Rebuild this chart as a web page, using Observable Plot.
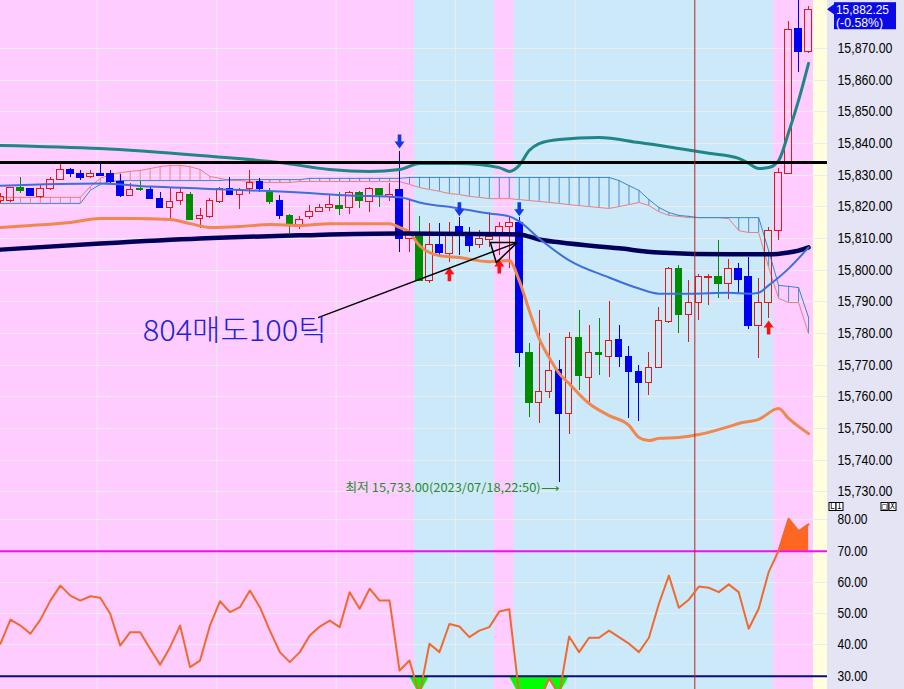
<!DOCTYPE html>
<html><head><meta charset="utf-8">
<script src="https://cdn.jsdelivr.net/npm/d3@7"></script>
<script src="https://cdn.jsdelivr.net/npm/@observablehq/plot@0.6"></script>
<style>
body{margin:0;background:#fff;}
#wrap{position:relative;width:904px;height:689px;overflow:hidden;background:#e4e4f4;}
#price{position:absolute;left:0;top:0;}
#rsi{position:absolute;left:0;top:501px;}
svg{display:block;overflow:visible;}
</style></head>
<body><div id="wrap"><div id="price"></div><div id="rsi"></div></div>
<script>
// ---------- data ----------
const candleKind = ["r","r","g","b","r","r","r","b","b","r","b","b","b","r","g","b","b","r","r","g","r","r","r","b","r","r","b","g","b","g","r","r","r","r","g","r","g","r","g","r","b","r","g","r","b","r","b","b","r","r","r","r","b","g","r","r","b","r","g","r","g","r","b","b","b","r","r","r","g","r","r","r","g","r","b","b","r","r","r","r","b","r"];
const open  = [15822,15821.75,15826,15825.5,15823,15825.5,15828.5,15831.5,15830.25,15829.5,15830.5,15830.5,15828,15823.5,15825.75,15825.25,15822.5,15819.75,15822,15823.75,15816.25,15816.75,15821.5,15825.75,15823.75,15825.5,15828,15824.5,15821.75,15817,15813.75,15816.75,15818.5,15819.5,15820.25,15819.5,15824.25,15821.5,15825.75,15823.25,15825.25,15809.75,15811.75,15796.75,15808,15805.25,15813.5,15810.75,15808,15809.5,15811,15813.5,15814.75,15774,15758,15761.5,15768.5,15754.75,15778.5,15766,15773.75,15772.5,15778,15772.75,15768,15764.25,15769.25,15783.5,15800.5,15786,15789.75,15797.5,15798,15795.5,15800.25,15797.75,15782.25,15789.75,15812.5,15830.5,15876.25,15868.75];
const high  = [15824.25,15826.25,15829.25,15825.75,15827,15829.25,15833.5,15832,15831.5,15831.5,15833.5,15831.5,15830.25,15827.25,15828,15826.5,15824.5,15825.75,15825.75,15824.5,15819.5,15822.5,15826.25,15829.25,15825.75,15831.5,15829,15825.75,15823.5,15817.5,15817,15820.5,15820.75,15823.75,15824.5,15824.75,15824.75,15826,15825.75,15827.5,15837.5,15822,15817,15814.75,15814.75,15815,15816.5,15813.5,15812.5,15818.25,15815,15816.5,15816.5,15777,15787.25,15780,15771.5,15780.25,15787.25,15782.5,15784.75,15790.25,15782.5,15776,15770,15774,15788.25,15800.75,15801.5,15796.75,15798.5,15798.5,15809.5,15803.5,15802,15804,15797.5,15813.5,15832,15878.5,15887,15883.25];
const low   = [15821,15821.5,15824.25,15823.25,15822.75,15825.25,15828.25,15829.25,15828.25,15829,15829.5,15827.5,15823,15823.25,15825,15822.25,15819.5,15815.75,15820.5,15815.75,15813.25,15816.25,15821,15823.75,15819.25,15823.75,15824.5,15820.75,15816,15811.5,15812.75,15816,15818.25,15818.5,15817.25,15817.5,15819.5,15818.25,15819.75,15821.75,15805.5,15805.5,15796.5,15795.75,15804,15802.5,15804.5,15805.5,15807,15807.25,15804.5,15800.5,15769.25,15753.5,15751.5,15759.5,15733,15748,15762,15758.25,15766.75,15766,15769.25,15753.25,15752.25,15760.5,15769,15783.25,15780,15777.25,15784,15788.75,15791,15790.75,15792.5,15781.25,15772,15784.75,15809.5,15830.25,15862.5,15868.5];
const close = [15823.25,15826,15825,15823.5,15825.5,15828.5,15831.5,15830.25,15829.25,15830.25,15829.75,15827.75,15823.5,15825.25,15825.25,15822.5,15819.75,15821.5,15824.25,15816,15817.25,15822,15825.75,15823.75,15825,15827.5,15825.5,15821.5,15817,15814.5,15816,15818.5,15819.75,15820.5,15819.25,15824.5,15821.75,15825.5,15823.75,15823.75,15810,15811.5,15796.75,15808,15805.5,15811,15811.75,15807.75,15809.75,15810.5,15813.5,15814.75,15774,15758,15761.5,15768.25,15754.75,15778.75,15766.5,15774,15773.25,15777.5,15772.5,15767.75,15764.25,15769.25,15784,15800.5,15786,15789.5,15798,15798,15795.5,15800.25,15797,15782.25,15789.75,15812.5,15830.75,15876,15869,15882.25];

// Ichimoku spans (per bar)
const spanA = [15823,15823,15823,15823,15823,15823,15823,15823,15823,15826.4,15829.0,15830.2,15830.8,15831.2,15831.5,15832.1,15832.7,15833.1,15833.1,15832.7,15831.8,15829.6,15829.0,15828.3,15828.3,15828.0,15827.7,15827.7,15827.7,15827.7,15828.0,15828,15828,15828,15828,15828,15828,15828,15828,15828,15828,15827.1,15826.1,15825.5,15824.9,15824.2,15823.9,15823.3,15823.0,15822.6,15822.6,15822.6,15822.3,15822.0,15821.7,15821.4,15821.1,15820.7,15820.4,15820.1,15819.8,15819.5,15820.1,15820.7,15821.4,15820.4,15818.5,15817.3,15817.0,15816.6,15816.6,15816.6,15816.6,15816.3,15812.5,15811.9,15811.9,15800.9,15791.1,15789.8,15789.8,15780.0];
const spanB = [15821.1,15821.1,15821.1,15821.1,15821.1,15821.1,15821.1,15821.1,15821.1,15825.2,15827.1,15828.0,15828.3,15828.3,15828.3,15828.3,15828.3,15828.3,15828.3,15828.3,15828.3,15828.3,15828.3,15828.6,15828.6,15828.6,15828.6,15828.6,15828.6,15828.6,15828.6,15829,15829,15829,15829,15829,15829,15829,15829,15829,15829,15829.3,15829.3,15829.3,15829.3,15829.3,15829.3,15829.3,15829.3,15829.3,15829.3,15829.3,15829.3,15829.3,15829.3,15829.3,15829.3,15829.3,15829.3,15829.3,15829.3,15829.3,15828.3,15826.7,15825.2,15822.3,15819.8,15818.2,15817.3,15817.0,15816.6,15816.6,15816.6,15816.6,15816.6,15816.6,15816.6,15806.2,15795.2,15794.9,15794.5,15785.1];

// Bollinger upper (teal)
const bbUpperIdx = [0,10,20,28,33,37,40,42,46,50,51,52,53,54,56,60,64,68,71,74,75,76,77,78,79,80,81];
const bbUpper    = [15839.4,15838.4,15836.2,15834.0,15831.8,15831.2,15831.8,15833.7,15833.7,15832.4,15831.2,15833.1,15837.8,15840.0,15841.3,15841.9,15840.3,15838.4,15836.9,15835.3,15833.7,15832.1,15832.4,15834.6,15843.5,15853.6,15865.3];
// Bollinger lower (orange)
const bbLowerIdx = [0,3,7,10,13,17,19,21,24,27,30,33,39,40,41,42,44,46,49,51,52,53,54,55,56,57,59,61,63,64,65,66,68,70,73,74,76,78,79,81];
const bbLower    = [15813.5,15814.1,15815.1,15816.3,15816.3,15816.0,15814.7,15813.5,15813.8,15814.4,15814.1,15814.7,15814.7,15813.5,15811.9,15807.8,15804.6,15804.0,15802.7,15803.1,15796.7,15787.3,15778.4,15772.4,15767.4,15764.2,15757.9,15754.1,15751.0,15747.2,15746.2,15746.9,15747.2,15748.1,15750.6,15751.6,15752.9,15756.3,15753.2,15748.4];
// long moving average (navy)
const maLongIdx = [0,10,20,30,40,52,54,56,62,66,73,77,79,80,81];
const maLong    = [15806.5,15808.4,15810.0,15811.0,15811.6,15811.3,15809.7,15808.8,15806.9,15805.6,15805.0,15805.0,15805.6,15806.2,15807.2];
// mid moving average (blue)
const maMidIdx = [0,10,15,20,30,35,40,42,46,49,51,52,54,57,61,64,66,69,73,75,76,77,79,81];
const maMid    = [15826.7,15827.4,15826.4,15825.8,15824.5,15823.6,15823.0,15821.4,15819.5,15817.9,15817.0,15815.4,15810.0,15803.1,15797.7,15794.2,15792.6,15792.6,15792.9,15792.6,15792.9,15795.2,15800.5,15807.2];

const resistance = 15834.0;
const rsi = [40.4,48.1,46.2,43.6,48.1,54.2,59.0,55.8,54.2,55.6,
 55.1,50.0,39.8,44.1,44.1,38.8,33.7,39.3,46.2,32.9,
 35.0,46.2,54.0,50.5,52.1,57.4,52.1,44.6,37.7,34.5,
 37.7,43.0,45.9,47.8,45.7,56.9,51.6,58.0,54.2,54.2,
 31.8,35.0,24.0,40.4,37.7,46.7,45.9,42.5,44.6,45.7,
 50.7,51.4,24.0,18.0,22.0,29.3,24.0,42.7,37.7,42.3,
 42.3,44.6,42.5,40.4,37.7,42.3,53.2,62.2,51.9,54.5,
 58.7,58.3,56.9,59.4,56.9,45.2,51.6,63.3,70.2,80.4,
 76.4,78.6];
const rsiUpper = 70, rsiLower = 30;

const sellSignalIdx = [40,46,52], sellSignalPrice = [15838.4,15817,15817];
const buySignalIdx = [45,50,77], buySignalPrice = [15800.9,15803.4,15784.1];

const regionStart = [-1,41.5,49.5,51.5,77.5,81.5];
const regionEnd   = [41.5,49.5,51.5,77.5,81.5,84];
const regionKind  = ["sell","buy","sell","buy","sell","blank"];

const priceTicks = [15730,15740,15750,15760,15770,15780,15790,15800,15810,15820,15830,15840,15850,15860,15870];
const rsiTicks = [30,40,50,60,70,80];
const rsiGrid = [40,50,60,80];
const timeGrid = [9.7,21.7,33.65,45.6,57.6];
const sessionBreak = [69.6];

const lowLabel = "최저 15,733.00(2023/07/18,22:50)⟶";
const lowIdx = 56, lowPrice = 15733;
const noteText = "804매도100틱", noteIdx = 14.25, notePrice = 15780.6;
const leaderIdx = [31.9,51.8], leaderPrice = [15785.1,15808.75];
const headIdx = [49.1,51.8,49.7,49.1], headPrice = [15808.75,15808.75,15802.4,15808.75];
const lastPrice = 15882.25, lastChange = "(-0.58%)";
const priceTop = 15885.16, priceBottom = 15726.97;
const rsiTop = 85.92, rsiBottom = 25.74;

// ---------- styles ----------
const regionColor = {sell:"#ffccff", buy:"#cce9fa", blank:"#ffffe0"};
const kindColor = {r:"#e01818", b:"#0000f0", g:"#008c00"};
const gridColor = "#ececf0";
const labelFont = "'Liberation Sans', Arial, sans-serif";
const W = 904, MR = 77, XMAX = 82.9;

const downArrow = {draw(c){c.moveTo(0,0);c.lineTo(-5,-7);c.lineTo(-1.8,-7);c.lineTo(-1.8,-14);c.lineTo(1.8,-14);c.lineTo(1.8,-7);c.lineTo(5,-7);c.closePath();}};
const upArrow = {draw(c){c.moveTo(0,0);c.lineTo(-5,7);c.lineTo(-1.8,7);c.lineTo(-1.8,14);c.lineTo(1.8,14);c.lineTo(1.8,7);c.lineTo(5,7);c.closePath();}};

const idx = d3.range(open.length);
const candles = idx.map(i => ({i, o:open[i], h:high[i], l:low[i], c:close[i], k:candleKind[i]}));
const regions = regionStart.map((s,i)=>({s, e:regionEnd[i], k:regionKind[i]}));

const candleMarks = [];
for (const k of ["r","b","g"]) {
  const data = candles.filter(d => d.k === k);
  const col = kindColor[k];
  candleMarks.push(Plot.ruleX(data, {x:"i", y1:"h", y2:d=>Math.max(d.o,d.c), stroke:col, strokeWidth:1, shapeRendering:"crispEdges"}));
  candleMarks.push(Plot.ruleX(data, {x:"i", y1:d=>Math.min(d.o,d.c), y2:"l", stroke:col, strokeWidth:1, shapeRendering:"crispEdges"}));
  candleMarks.push(Plot.rect(data, {x1:d=>d.i-0.33, x2:d=>d.i+0.33, y1:"o", y2:"c",
    fill: k==="r" ? "none" : col, stroke: col, strokeWidth:1, shapeRendering:"crispEdges"}));
}

const fmt2 = d3.format(",.2f");

const priceChart = Plot.plot({
  width: W, height: 501, marginLeft:0, marginRight:MR, marginTop:0, marginBottom:0,
  style:{background:"transparent", overflow:"visible"},
  x:{type:"linear", domain:[0,XMAX], axis:null},
  y:{domain:[priceBottom, priceTop], axis:null},
  marks:[
    Plot.rect(regions, {x1:"s", x2:"e", fill:d=>regionColor[d.k], clip:true}),
    Plot.ruleY(priceTicks, {stroke:gridColor, strokeWidth:1, shapeRendering:"crispEdges"}),
    Plot.ruleX(timeGrid, {stroke:gridColor, strokeWidth:1}),
    Plot.ruleX(idx, {x:i=>i, y1:i=>spanA[i], y2:i=>spanB[i], stroke:i=>spanA[i]>=spanB[i] ? "#ee8888" : "#4a8fcc", strokeWidth:1}),
    Plot.line(idx, {x:i=>i, y:i=>spanA[i], stroke:"#e88080", strokeWidth:1}),
    Plot.line(idx, {x:i=>i, y:i=>spanB[i], stroke:"#3a86c8", strokeWidth:1}),
    ...candleMarks,
    Plot.line(bbUpperIdx, {x:d=>d, y:(d,i)=>bbUpper[i], stroke:"#1f8585", strokeWidth:3, curve:"monotone-x", clip:true}),
    Plot.line(bbLowerIdx, {x:d=>d, y:(d,i)=>bbLower[i], stroke:"#f0874f", strokeWidth:3, curve:"monotone-x", clip:true}),
    Plot.line(maLongIdx, {x:d=>d, y:(d,i)=>maLong[i], stroke:"#00005a", strokeWidth:4.5, curve:"monotone-x", clip:true}),
    Plot.line(maMidIdx, {x:d=>d, y:(d,i)=>maMid[i], stroke:"#3d6fdc", strokeWidth:2, curve:"monotone-x", clip:true}),
    Plot.ruleY([resistance], {stroke:"#000", strokeWidth:3}),
    Plot.ruleX(sessionBreak, {stroke:"#c02020", strokeWidth:1}),
    Plot.dot(sellSignalIdx, {x:d=>d, y:(d,i)=>sellSignalPrice[i], symbol:downArrow, fill:"#1438e8", stroke:"none"}),
    Plot.dot(buySignalIdx, {x:d=>d, y:(d,i)=>buySignalPrice[i], symbol:upArrow, fill:"#ff1010", stroke:"none"}),
    Plot.line(leaderIdx, {x:d=>d, y:(d,i)=>leaderPrice[i], stroke:"#000", strokeWidth:1.5}),
    Plot.line(headIdx, {x:d=>d, y:(d,i)=>headPrice[i], stroke:"#000", strokeWidth:1.5}),
    Plot.text([noteText], {x:noteIdx, y:notePrice, text:d=>d, textAnchor:"start", lineAnchor:"middle",
      fontSize:29, fontFamily:"'Noto Sans CJK KR', sans-serif", fontWeight:300, fill:"#2222d4"}),
    Plot.text([lowLabel], {x:lowIdx, y:lowPrice, text:d=>d, textAnchor:"end", lineAnchor:"middle", dy:6,
      fontSize:12, fontFamily:"'Noto Sans CJK KR', 'DejaVu Sans', sans-serif", fill:"#2a8a2a"}),
    Plot.text(priceTicks, {y:d=>d, text:d=>fmt2(d), frameAnchor:"right", dx:10, textAnchor:"start", lineAnchor:"middle",
      fontSize:14, fontFamily:labelFont, fill:"#000"})
  ]
});
document.getElementById("price").appendChild(priceChart);

const rsiChart = Plot.plot({
  width: W, height: 188, marginLeft:0, marginRight:MR, marginTop:0, marginBottom:0,
  style:{background:"transparent", overflow:"visible"},
  x:{type:"linear", domain:[0,XMAX], axis:null},
  y:{domain:[rsiBottom, rsiTop], axis:null},
  marks:[
    Plot.rect(regions, {x1:"s", x2:"e", fill:d=>regionColor[d.k], clip:true}),
    Plot.ruleY(rsiGrid, {stroke:gridColor, strokeWidth:1, shapeRendering:"crispEdges"}),
    Plot.ruleX(timeGrid, {stroke:gridColor, strokeWidth:1}),
    Plot.areaY(idx, {x:i=>i, y1:rsiLower, y2:i=>Math.min(rsi[i], rsiLower), fill:"#00ff00", clip:true}),
    Plot.areaY(idx, {x:i=>i, y1:rsiUpper, y2:i=>Math.max(rsi[i], rsiUpper), fill:"#ff6622", clip:true}),
    Plot.ruleY([rsiUpper], {stroke:"#f010f0", strokeWidth:2}),
    Plot.ruleY([rsiLower], {stroke:"#0a0a8c", strokeWidth:2}),
    Plot.ruleX(sessionBreak, {stroke:"#c02020", strokeWidth:1}),
    Plot.line(idx, {x:i=>i, y:i=>rsi[i], stroke:"#f06a30", strokeWidth:2, clip:true}),
    Plot.text(rsiTicks, {y:d=>d, text:d=>d3.format(".2f")(d), frameAnchor:"right", dx:10, textAnchor:"start", lineAnchor:"middle",
      fontSize:14, fontFamily:labelFont, fill:"#000"})
  ]
});
document.getElementById("rsi").appendChild(rsiChart);

// compress label widths to match the narrow terminal font
d3.select(priceChart).selectAll("text").each(function(){
  const t = this.textContent;
  if (/^\d{2},\d{3}\.\d{2}$/.test(t)) { this.setAttribute("textLength", 55); this.setAttribute("lengthAdjust","spacingAndGlyphs"); }
  else if (t === noteText) { this.setAttribute("textLength", 184); this.setAttribute("lengthAdjust","spacingAndGlyphs"); }
  else if (t === lowLabel) { this.setAttribute("textLength", 214); this.setAttribute("lengthAdjust","spacingAndGlyphs"); }
});
d3.select(rsiChart).selectAll("text").each(function(){
  if (/^\d{2}\.\d{2}$/.test(this.textContent)) { this.setAttribute("textLength", 30); this.setAttribute("lengthAdjust","spacingAndGlyphs"); }
});

// current price tag
{
  const svg = d3.select(priceChart);
  const yb = priceChart.scale("y").apply(lastPrice);
  const g = svg.append("g").attr("text-anchor","start").attr("font-family",labelFont).attr("font-size",13).attr("fill","#fff");
  g.append("path").attr("d", `M827,${yb} L834,${yb-5} L834,${yb+5}Z`).attr("fill","#0a0ae6");
  g.append("rect").attr("x",834).attr("y",yb-7).attr("width",62).attr("height",27).attr("fill","#0a0ae6");
  g.append("text").attr("x",836).attr("y",yb).attr("dy","0.35em")
    .attr("textLength",53).attr("lengthAdjust","spacingAndGlyphs").text(fmt2(lastPrice));
  g.append("text").attr("x",836).attr("y",yb+13.5).attr("dy","0.35em")
    .attr("textLength",47).attr("lengthAdjust","spacingAndGlyphs").text(lastChange);
}
// panel buttons
{
  const svg = d3.select(rsiChart);
  const g = svg.append("g").attr("font-family","'DejaVu Sans Mono', monospace").attr("font-size",8).attr("fill","#000").attr("text-anchor","middle");
  [[829,"L"],[836,"I"],[881,"□"],[889,"X"]].forEach(([x,t])=>{
    g.append("rect").attr("x",x).attr("y",1.5).attr("width",7).attr("height",8).attr("fill","#fff").attr("stroke","#000").attr("stroke-width",1);
    g.append("text").attr("x",x+3.5).attr("y",5.5).attr("dy","0.35em").text(t);
  });
}
</script>
</body></html>
